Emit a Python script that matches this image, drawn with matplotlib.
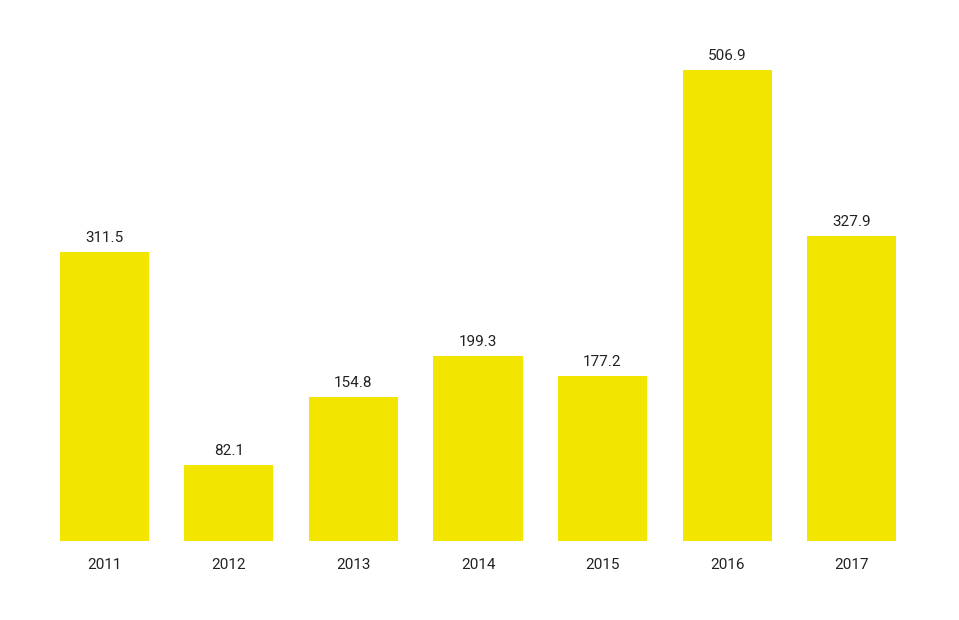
import matplotlib
matplotlib.use("Agg")
import matplotlib.pyplot as plt

years = ["2011", "2012", "2013", "2014", "2015", "2016", "2017"]
values = [311.5, 82.1, 154.8, 199.3, 177.2, 506.9, 327.9]

plt.rcParams['font.family'] = ['Roboto', 'DejaVu Sans']

fig = plt.figure(figsize=(9.59, 6.20), dpi=100)
ax = fig.add_axes([0, 0.1274, 1, 0.8726])

x = list(range(len(years)))
bars = ax.bar(x, values, width=0.715, color="#F2E500")

for xi, v in zip(x, values):
    ax.annotate("{:.1f}".format(v), (xi, v), xytext=(0, 5), textcoords="offset points",
                ha="center", va="bottom", fontsize=11, color="#222222")

ax.set_xlim(-0.839, 6.863)
ax.set_ylim(0, 582.3)
ax.set_xticks(x)
ax.set_xticklabels(years, fontsize=11, color="#222222")
ax.tick_params(axis="x", length=0, pad=12)
ax.set_yticks([])
for s in ax.spines.values():
    s.set_visible(False)

fig.savefig("out.png", dpi=100)
